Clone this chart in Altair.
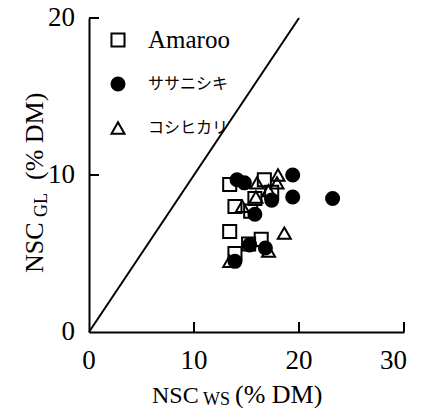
import altair as alt
import pandas as pd

# ---- data ----
varieties = ["Amaroo", "ササニシキ", "コシヒカリ"]

amaroo_x = [13.4, 16.7, 17.4, 15.8, 13.9, 15.4, 13.4, 16.4, 15.2, 13.9]
amaroo_y = [9.4, 9.7, 8.9, 8.5, 8.0, 7.7, 6.4, 5.9, 5.6, 5.0]

sasa_x = [14.1, 14.8, 19.4, 19.4, 23.2, 17.4, 15.8, 15.3, 16.8, 13.9]
sasa_y = [9.7, 9.5, 10.0, 8.6, 8.5, 8.4, 7.5, 5.55, 5.35, 4.5]

koshi_x = [18.0, 17.9, 16.0, 17.1, 14.6, 15.9, 18.6, 17.1, 13.4]
koshi_y = [10.0, 9.5, 9.5, 9.0, 8.0, 8.6, 6.3, 5.15, 4.5]

line_x = [0, 20]
line_y = [0, 20]

x_ticks = [0, 10, 20, 30]
y_ticks = [0, 10, 20]

rows = []
for name, xs, ys in [(varieties[0], amaroo_x, amaroo_y),
                     (varieties[1], sasa_x, sasa_y),
                     (varieties[2], koshi_x, koshi_y)]:
    for a, b in zip(xs, ys):
        rows.append({"variety": name, "ws": a, "gl": b})
pts = pd.DataFrame(rows)

SERIF = "Liberation Serif"
xscale = alt.Scale(domain=[0, 30], nice=False, zero=False)
yscale = alt.Scale(domain=[0, 20], nice=False, zero=False)
shape_scale = alt.Scale(domain=varieties, range=["square", "circle", "triangle-up"])
fill_scale = alt.Scale(domain=varieties, range=["transparent", "black", "transparent"])

AX = dict(title=None, ticks=False, grid=False, domainColor="black",
          domainWidth=2, labels=False)
xaxis = alt.Axis(values=x_ticks, **AX)
yaxis = alt.Axis(values=y_ticks, **AX)

line = alt.Chart(pd.DataFrame({"ws": line_x, "gl": line_y})).mark_line(
    color="black", strokeWidth=2).encode(
    x=alt.X("ws:Q", scale=xscale, axis=xaxis),
    y=alt.Y("gl:Q", scale=yscale, axis=yaxis))

MARK = dict(filled=True, size=170, stroke="black", strokeWidth=2, opacity=1)

points = alt.Chart(pts).mark_point(**MARK).encode(
    x=alt.X("ws:Q", scale=xscale, axis=xaxis),
    y=alt.Y("gl:Q", scale=yscale, axis=yaxis),
    shape=alt.Shape("variety:N", scale=shape_scale, legend=None),
    fill=alt.Fill("variety:N", scale=fill_scale, legend=None),
)

# inward tick marks
xt = alt.Chart(pd.DataFrame({"v": x_ticks[1:]})).mark_rule(
    color="black", strokeWidth=2).encode(
    x=alt.X("v:Q", scale=xscale, axis=xaxis), y=alt.value(314), y2=alt.value(304))
yt = alt.Chart(pd.DataFrame({"v": y_ticks[1:]})).mark_rule(
    color="black", strokeWidth=2).encode(
    y=alt.Y("v:Q", scale=yscale, axis=yaxis), x=alt.value(0), x2=alt.value(10))

# tick labels as serif text (last x label kept inside the page)
xl = alt.Chart(pd.DataFrame({"v": x_ticks[:-1]})).mark_text(
    font=SERIF, fontSize=27, color="black", align="center",
    baseline="middle").encode(
    x=alt.X("v:Q", scale=xscale, axis=xaxis), y=alt.value(343),
    text=alt.Text("v:Q"))
xl_last = alt.Chart(pd.DataFrame({"v": x_ticks[-1:]})).mark_text(
    font=SERIF, fontSize=27, color="black", align="right", dx=3,
    baseline="middle").encode(
    x=alt.X("v:Q", scale=xscale, axis=xaxis), y=alt.value(343),
    text=alt.Text("v:Q"))
yl = alt.Chart(pd.DataFrame({"v": y_ticks})).mark_text(
    font=SERIF, fontSize=27, color="black", align="right",
    baseline="middle").encode(
    y=alt.Y("v:Q", scale=yscale, axis=yaxis), x=alt.value(-14),
    text=alt.Text("v:Q"))

# legend drawn as marks (one row per variety)
legend_layers = []
for i, name in enumerate(varieties):
    d = pd.DataFrame({"variety": [name]})
    ly = 22 + 44 * i
    legend_layers.append(
        alt.Chart(d).mark_point(**MARK).encode(
            x=alt.value(29), y=alt.value(ly),
            shape=alt.Shape("variety:N", scale=shape_scale, legend=None),
            fill=alt.Fill("variety:N", scale=fill_scale, legend=None)))
    if i == 0:
        legend_layers.append(alt.Chart(d).mark_text(
            font=SERIF, fontSize=25, color="black", align="left",
            baseline="middle").encode(
            x=alt.value(59), y=alt.value(ly), text="variety:N"))
    else:
        legend_layers.append(alt.Chart(d).mark_text(
            font="Noto Sans CJK JP", fontSize=16, color="black", align="left",
            baseline="middle").encode(
            x=alt.value(59), y=alt.value(ly), text="variety:N"))

one = pd.DataFrame({"k": [0]})


def txt(s, x, y, size, angle=0):
    return alt.Chart(one).mark_text(
        text=s, font=SERIF, fontSize=size, color="black", align="left",
        baseline="alphabetic", angle=angle).encode(
        x=alt.value(x), y=alt.value(y))


titles = [
    txt("NSC", 63, 385, 24),
    txt("WS", 114, 387, 18),
    txt("(%  DM)", 146, 385, 26),
    txt("NSC", -46, 255, 26, 270),
    txt("GL", -42, 199, 18, 270),
    txt("(%  DM)", -46, 162, 26, 270),
]

chart = alt.layer(line, points, xt, yt, xl, xl_last, yl, *legend_layers,
                  *titles).properties(
    width=315, height=314,
    autosize=alt.AutoSizeParams(type="none"),
    padding={"left": 81, "top": 10, "right": 10, "bottom": 76},
).configure_view(stroke=None).configure_axis(
    ticks=False, grid=False, domainColor="black", domainWidth=2, labels=False,
)

chart.save("out.html", embed_options={"renderer": "svg", "actions": False})
